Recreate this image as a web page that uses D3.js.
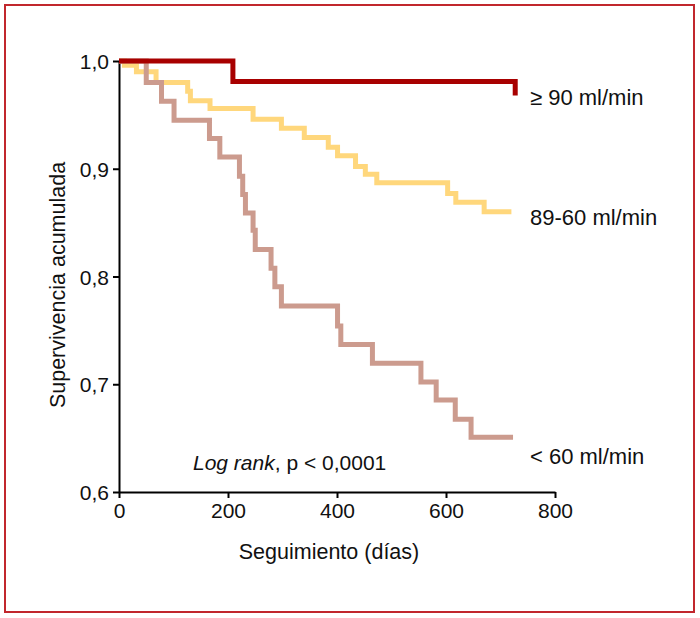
<!DOCTYPE html>
<html>
<head>
<meta charset="utf-8">
<script src="https://cdn.jsdelivr.net/npm/d3@7"></script>
<style>
  html, body { margin: 0; padding: 0; background: #fff; }
  svg { display: block; }
  text { font-family: "Liberation Sans", Arial, sans-serif; fill: #111; }
</style>
</head>
<body>
<svg id="chart" width="700" height="618"></svg>
<script>
// ---- data ----
const groupLabels = ["≥ 90 ml/min", "89-60 ml/min", "< 60 ml/min"];
const xTicks = [0, 200, 400, 600, 800];
const yTicks = [0.6, 0.7, 0.8, 0.9, 1.0];

const redDays = [0, 209, 727];
const redSurv = [1.0, 0.981, 0.968];

const yellowDays = [0, 10, 32, 68, 126, 131, 167, 246, 298, 340, 384, 401, 434, 452, 473, 603, 618, 670, 720];
const yellowSurv = [1.0, 0.996, 0.990, 0.980, 0.972, 0.963, 0.956, 0.946, 0.9375, 0.929, 0.920, 0.912, 0.902, 0.895, 0.887, 0.877, 0.869, 0.860, 0.860];

const brownDays = [0, 50, 78, 101, 166, 185, 221, 227, 232, 246, 250, 279, 286, 298, 401, 407, 465, 554, 582, 617, 646, 723];
const brownSurv = [1.0, 0.980, 0.9626, 0.945, 0.928, 0.911, 0.893, 0.876, 0.859, 0.843, 0.825, 0.8076, 0.7906, 0.7726, 0.754, 0.737, 0.7194, 0.702, 0.6854, 0.6675, 0.6508, 0.6508];

// ---- layout ----
const svg = d3.select("#chart");
const x = d3.scaleLinear().domain([0, 800]).range([119, 555]);
const y = d3.scaleLinear().domain([0.6, 1.0]).range([492, 61]);

// frame
svg.append("rect").attr("x", 5).attr("y", 5).attr("width", 689).attr("height", 607)
  .attr("fill", "none").attr("stroke", "#c1272d").attr("stroke-width", 2);

const fmt = d => d3.format(".1f")(d).replace(".", ",");

// axes
const gx = svg.append("g").attr("transform", `translate(0,${y(0.6)})`)
  .call(d3.axisBottom(x).tickValues(xTicks).tickSize(6).tickSizeOuter(0).tickPadding(5));
const gy = svg.append("g").attr("transform", `translate(${x(0)},0)`)
  .call(d3.axisLeft(y).tickValues(yTicks).tickFormat(fmt).tickSize(6).tickSizeOuter(0).tickPadding(4));
[gx, gy].forEach(g => {
  g.select(".domain").attr("stroke", "#000").attr("stroke-width", 2);
  g.selectAll(".tick line").attr("stroke", "#000").attr("stroke-width", 2);
  g.selectAll(".tick text").attr("font-size", 21).attr("fill", "#111")
    .style("font-family", '"Liberation Sans", Arial, sans-serif');
});
gy.selectAll(".tick text").attr("dy", "0.36em");

// curves
const line = d3.line().x(d => x(d[0])).y(d => y(d[1])).curve(d3.curveStepAfter);
const series = [
  { days: yellowDays, surv: yellowSurv, color: "#ffd77c" },
  { days: brownDays, surv: brownSurv, color: "#cc9b8e" },
  { days: redDays, surv: redSurv, color: "#a80000" }
];
series.forEach(s => {
  svg.append("path")
    .datum(s.days.map((d, i) => [d, s.surv[i]]))
    .attr("d", line)
    .attr("fill", "none")
    .attr("stroke", s.color)
    .attr("stroke-width", 5)
    .attr("stroke-linejoin", "miter");
});

// group labels
const labelY = [97, 217, 456];
groupLabels.forEach((t, i) => {
  svg.append("text").attr("x", 530).attr("y", labelY[i]).attr("dy", "0.36em")
    .attr("font-size", 22).text(t);
});

// log rank annotation
const ann = svg.append("text").attr("x", 193).attr("y", 462).attr("dy", "0.36em").attr("font-size", 21);
ann.append("tspan").attr("font-style", "italic").text("Log rank");
ann.append("tspan").text(", p < 0,0001");

// axis titles
svg.append("text").attr("x", 329).attr("y", 551).attr("dy", "0.36em")
  .attr("text-anchor", "middle").attr("font-size", 21.5).text("Seguimiento (días)");
svg.append("text").attr("transform", "translate(57,285) rotate(-90)").attr("dy", "0.36em")
  .attr("text-anchor", "middle").attr("font-size", 21.5).text("Supervivencia acumulada");
</script>
</body>
</html>
